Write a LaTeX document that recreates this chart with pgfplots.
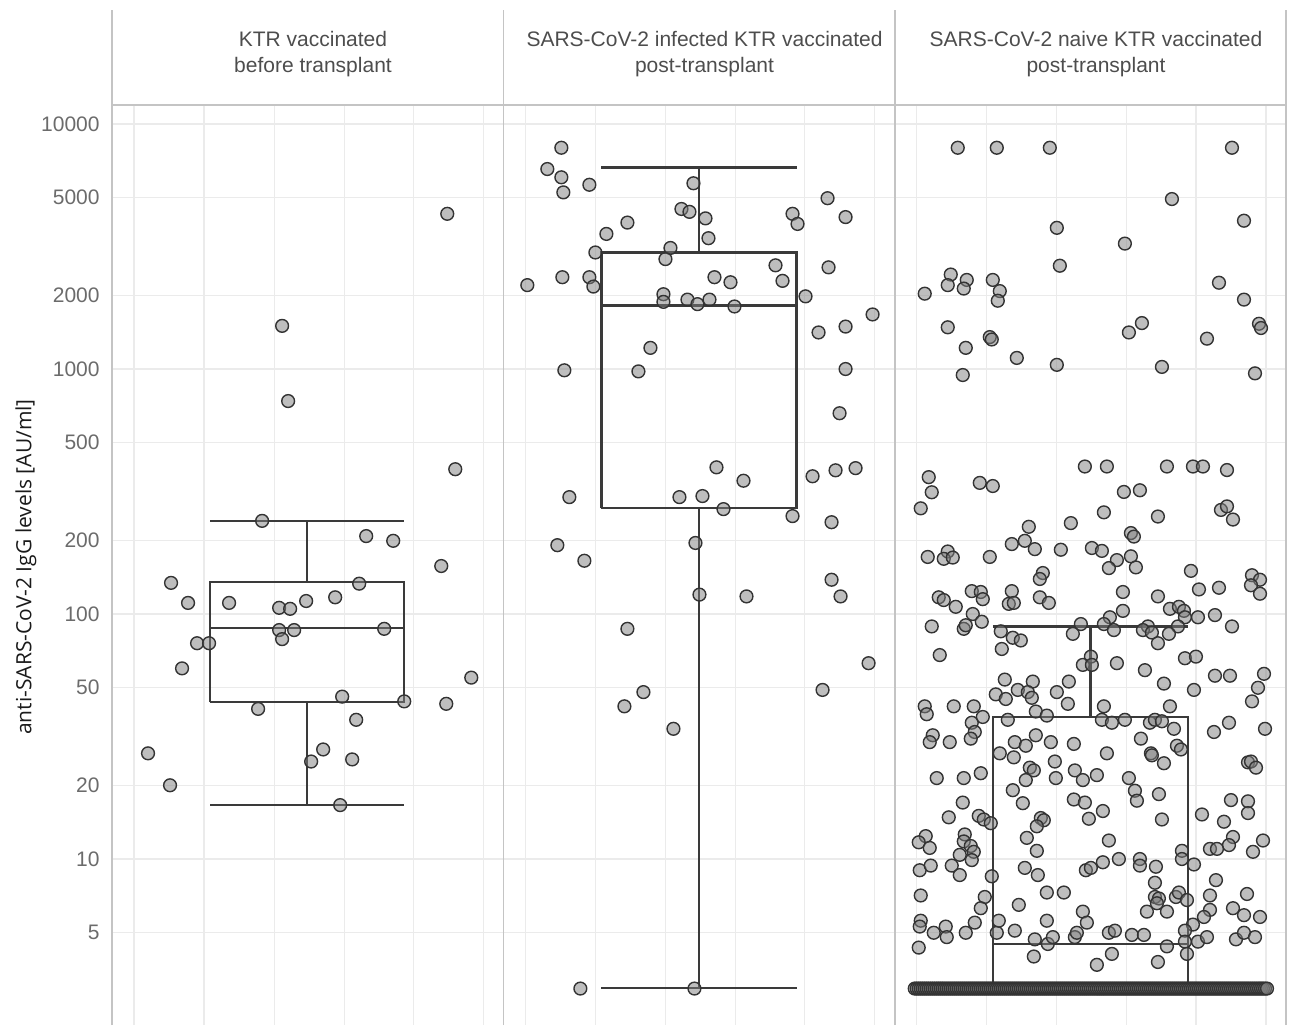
\documentclass[border=0pt]{standalone}
\usepackage{fontspec}
\setmainfont{Liberation Sans}
\newfontfamily\labfont{Open Sans}
\usepackage{pgfplots}
\usepackage{pgfplotstable}
\pgfplotsset{compat=1.18}
\definecolor{ptfill}{HTML}{7E7E7E}
\definecolor{ptedge}{HTML}{333333}
\definecolor{boxc}{HTML}{3A3A3A}
\definecolor{gridc}{HTML}{EBEBEB}
\definecolor{bordc}{HTML}{C4C4C4}
\definecolor{tickc}{HTML}{6B6B6B}
\definecolor{headc}{HTML}{4D4D4D}
\definecolor{ylabc}{HTML}{1A1A1A}

\pgfplotstableread{
x y
170 1500
176 740
335 4300
343 390
150 240
254 208
281 199
329 157
59 134
247 133
76 111
117 111
167 106
178 105
194 113
223 117
167 86
182 86
272 87
170 79
85 76
97 76
70 60
359 55
230 46
292 44
334 43
146 41
244 37
36 27
211 28
199 25
240 25.5
58 20
228 16.6
}\pone

\pgfplotstableread{
x y
58 8000
44 6550
58 6060
86 5650
60 5260
190 5730
324 4980
178 4500
186 4380
202 4120
289 4300
294 3910
342 4170
124 3960
103 3560
205 3420
167 3120
92 2990
162 2810
272 2650
325 2600
59 2370
86 2370
24 2200
90 2170
211 2370
227 2260
279 2290
302 1980
160 2020
160 1880
184 1920
194 1840
206 1920
231 1800
369 1670
342 1490
315 1410
147 1220
61 988
135 978
342 1000
336 660
213 397
240 350
309 365
332 386
352 394
66 300
176 300
199 303
220 268
289 251
328 237
54 191
192 195
81 165
328 138
337 118
196 120
243 118
124 87
365 63
140 48
319 49
121 42
170 34
77 2.96
191 2.96
}\ptwo

\pgfplotstableread{
x y
63 8000
102 8000
155 8000
337 8000
277 4940
349 4030
162 3770
230 3250
165 2640
56 2430
53 2200
72 2310
69 2130
98 2310
105 2080
103 1900
30 2030
324 2250
349 1920
53 1480
247 1540
234 1410
364 1530
366 1470
95 1350
97 1320
312 1330
71 1220
122 1110
162 1040
267 1020
68 945
360 960
34 362
37 314
26 270
85 343
98 333
190 400
212 400
272 400
298 400
308 400
332 387
229 315
245 320
209 260
263 250
326 266
332 275
338 243
176 235
134 227
236 214
239 207
117 193
130 199
140 184
166 183
197 186
207 181
53 180
33 171
49 168
58 170
95 171
222 166
236 172
214 154
241 155
296 150
148 147
145 139
357 144
365 138
356 131
365 121
324 128
304 126
228 123
263 118
77 124
86 123
88 115
44 117
49 114
61 107
117 124
114 110
119 111
145 117
154 111
78 100
87 93
37 89
69 87
71 90
228 103
215 97
275 105
284 107
289 103
290 97
303 97
320 99
337 89
186 91
209 91
253 89
283 89
106 85
178 83
219 86
248 86
257 84
274 83
263 76
118 80
126 78
107 72
45 68
196 67
188 62
197 62
222 63
290 66
301 67
250 59
320 56
335 56
369 57
110 54
138 53
174 53
269 52
363 50
101 47
111 45
123 49
133 48
137 45.5
162 48
299 49
30 42
32 39
59 42
79 42
88 38
77 36
80 33
38 32
35 30
55 30
76 31
113 37
141 40
152 38.5
173 43
209 42
207 37
217 36
230 37
255 36
260 37
267 36.5
275 42
279 34
357 44
334 36
319 33
370 34
120 30
131 29
141 32
156 30
179 29.5
105 27
119 26
160 25
212 27
246 31
256 27
257 26.5
269 24.6
282 29
286 28
353 24.8
356 25
361 23.6
42 21.4
69 21.4
86 22.4
135 23.6
139 23
131 21
161 21.4
180 23
188 21
202 22
234 21.4
118 19.1
128 16.9
179 17.5
190 17
240 19
242 17.3
264 18.4
68 17
54 14.8
84 15
89 14.5
96 14
146 14.7
149 14.4
142 13.6
194 14.6
208 15.7
267 14.5
336 17.4
353 17.2
353 15.4
307 15.2
329 14.2
31 12.4
24 11.7
35 11.1
70 12.6
69 11.8
76 11.3
79 10.7
65 10.4
77 9.9
132 12.2
142 10.8
214 11.9
338 12.3
334 11.4
315 11
322 11
368 11.9
358 10.7
287 10.8
287 10
299 9.5
208 9.7
224 10
245 10
245 9.4
261 9.3
25 9.0
36 9.4
57 9.4
65 8.6
97 8.5
130 9.2
143 8.6
191 9.0
196 9.2
260 8.0
321 8.2
26 7.1
152 7.3
169 7.3
90 7.0
86 6.3
124 6.5
260 7.0
264 6.9
262 6.6
281 7.0
284 7.3
292 6.8
272 6.1
252 6.1
188 6.1
192 5.5
315 7.1
352 7.2
315 6.2
338 6.3
349 5.9
309 5.8
365 5.8
298 5.4
26 5.6
25 5.3
39 5.0
51 5.3
52 4.8
71 5.0
80 5.5
102 5.0
104 5.6
120 5.1
152 5.6
140 4.7
153 4.5
158 4.8
180 4.8
182 5.0
214 5.0
220 5.1
237 4.9
249 4.9
272 4.4
290 5.1
290 4.6
292 4.1
303 4.6
312 4.8
341 4.7
349 5.0
360 4.8
24 4.35
139 4.0
217 4.1
202 3.7
263 3.8
}\pthree

\pgfplotstableread[row sep=\\]{
x y\\
20 2.96\\ 22 2.96\\ 24 2.96\\ 26 2.96\\ 28 2.96\\ 30 2.96\\ 32 2.96\\ 34 2.96\\ 36 2.96\\ 38 2.96\\
40 2.96\\ 42 2.96\\ 44 2.96\\ 46 2.96\\ 48 2.96\\ 50 2.96\\ 52 2.96\\ 54 2.96\\ 56 2.96\\ 58 2.96\\
60 2.96\\ 62 2.96\\ 64 2.96\\ 66 2.96\\ 68 2.96\\ 70 2.96\\ 72 2.96\\ 74 2.96\\ 76 2.96\\ 78 2.96\\
80 2.96\\ 82 2.96\\ 84 2.96\\ 86 2.96\\ 88 2.96\\ 90 2.96\\ 92 2.96\\ 94 2.96\\ 96 2.96\\ 98 2.96\\
100 2.96\\ 102 2.96\\ 104 2.96\\ 106 2.96\\ 108 2.96\\ 110 2.96\\ 112 2.96\\ 114 2.96\\ 116 2.96\\ 118 2.96\\
120 2.96\\ 122 2.96\\ 124 2.96\\ 126 2.96\\ 128 2.96\\ 130 2.96\\ 132 2.96\\ 134 2.96\\ 136 2.96\\ 138 2.96\\
140 2.96\\ 142 2.96\\ 144 2.96\\ 146 2.96\\ 148 2.96\\ 150 2.96\\ 152 2.96\\ 154 2.96\\ 156 2.96\\ 158 2.96\\
160 2.96\\ 162 2.96\\ 164 2.96\\ 166 2.96\\ 168 2.96\\ 170 2.96\\ 172 2.96\\ 174 2.96\\ 176 2.96\\ 178 2.96\\
180 2.96\\ 182 2.96\\ 184 2.96\\ 186 2.96\\ 188 2.96\\ 190 2.96\\ 192 2.96\\ 194 2.96\\ 196 2.96\\ 198 2.96\\
200 2.96\\ 202 2.96\\ 204 2.96\\ 206 2.96\\ 208 2.96\\ 210 2.96\\ 212 2.96\\ 214 2.96\\ 216 2.96\\ 218 2.96\\
220 2.96\\ 222 2.96\\ 224 2.96\\ 226 2.96\\ 228 2.96\\ 230 2.96\\ 232 2.96\\ 234 2.96\\ 236 2.96\\ 238 2.96\\
240 2.96\\ 242 2.96\\ 244 2.96\\ 246 2.96\\ 248 2.96\\ 250 2.96\\ 252 2.96\\ 254 2.96\\ 256 2.96\\ 258 2.96\\
260 2.96\\ 262 2.96\\ 264 2.96\\ 266 2.96\\ 268 2.96\\ 270 2.96\\ 272 2.96\\ 274 2.96\\ 276 2.96\\ 278 2.96\\
280 2.96\\ 282 2.96\\ 284 2.96\\ 286 2.96\\ 288 2.96\\ 290 2.96\\ 292 2.96\\ 294 2.96\\ 296 2.96\\ 298 2.96\\
300 2.96\\ 302 2.96\\ 304 2.96\\ 306 2.96\\ 308 2.96\\ 310 2.96\\ 312 2.96\\ 314 2.96\\ 316 2.96\\ 318 2.96\\
320 2.96\\ 322 2.96\\ 324 2.96\\ 326 2.96\\ 328 2.96\\ 330 2.96\\ 332 2.96\\ 334 2.96\\ 336 2.96\\ 338 2.96\\
340 2.96\\ 342 2.96\\ 344 2.96\\ 346 2.96\\ 348 2.96\\ 350 2.96\\ 352 2.96\\ 354 2.96\\ 356 2.96\\ 358 2.96\\
360 2.96\\ 362 2.96\\ 364 2.96\\ 366 2.96\\ 368 2.96\\ 370 2.96\\ 372 2.96\\
}\pthreefloor

\pgfplotsset{
  pts/.style={only marks, mark=*, mark size=3.2pt,
    mark options={fill=ptfill, fill opacity=0.5, draw=ptedge, draw opacity=1, line width=0.7pt}},
  bx/.style={boxc, line width=1.25pt, forget plot},
}

\begin{document}
\begin{tikzpicture}
\useasboundingbox (0,0) rectangle (647pt,512.5pt);

% Panel 1
\begin{axis}[scale only axis, width=195.65pt, height=460pt, anchor=south west, at={(56pt,0pt)},
    xmin=0, xmax=391, ymode=log, ymin=2.1014, ymax=11955,
    axis line style={draw=none}, tick style={draw=none}, major tick length=0pt,
    xtick={22,92,162,232,301,371}, xticklabels={},
    ytick={5,10,20,50,100,200,500,1000,2000,5000,10000},
    xmajorgrids, ymajorgrids,
    grid style={gridc, line width=0.6pt},
  yticklabels={5,10,20,50,100,200,500,1000,2000,5000,10000},
  yticklabel style={font=\fontsize{10.5}{12}\selectfont, text=tickc, anchor=east, inner sep=0pt, xshift=-6pt}]
\addplot[bx] coordinates {(98,43.7) (98,135) (292,135) (292,43.7) (98,43.7)};
\addplot[bx] coordinates {(98,87.6) (292,87.6)};
\addplot[bx] coordinates {(195,135) (195,240)};
\addplot[bx] coordinates {(98,240) (292,240)};
\addplot[bx] coordinates {(195,43.7) (195,16.6)};
\addplot[bx] coordinates {(98,16.6) (292,16.6)};
\addplot[pts] table[x=x,y=y] {\pone};
\end{axis}

% Panel 2
\begin{axis}[scale only axis, width=195.65pt, height=460pt, anchor=south west, at={(251.65pt,0pt)},
    xmin=0, xmax=391, ymode=log, ymin=2.1014, ymax=11955,
    axis line style={draw=none}, tick style={draw=none}, major tick length=0pt,
    xtick={22,92,162,232,301,371}, xticklabels={},
    ytick={5,10,20,50,100,200,500,1000,2000,5000,10000}, yticklabels={},
    xmajorgrids, ymajorgrids,
    grid style={gridc, line width=0.6pt}]
\addplot[bx] coordinates {(98,271) (98,2990) (293,2990) (293,271) (98,271)};
\addplot[bx] coordinates {(98,1820) (293,1820)};
\addplot[bx] coordinates {(195.5,2990) (195.5,6630)};
\addplot[bx] coordinates {(98,6630) (293,6630)};
\addplot[bx] coordinates {(195.5,271) (195.5,2.97)};
\addplot[bx] coordinates {(98,2.97) (293,2.97)};
\addplot[pts] table[x=x,y=y] {\ptwo};
\end{axis}

% Panel 3
\begin{axis}[scale only axis, width=195.65pt, height=460pt, anchor=south west, at={(447.35pt,0pt)},
    xmin=0, xmax=391, ymode=log, ymin=2.1014, ymax=11955,
    axis line style={draw=none}, tick style={draw=none}, major tick length=0pt,
    xtick={22,92,162,232,301,371}, xticklabels={},
    ytick={5,10,20,50,100,200,500,1000,2000,5000,10000}, yticklabels={},
    xmajorgrids, ymajorgrids,
    grid style={gridc, line width=0.6pt}]
\addplot[bx] coordinates {(98,2.97) (98,38) (293,38) (293,2.97) (98,2.97)};
\addplot[bx] coordinates {(98,4.5) (293,4.5)};
\addplot[bx] coordinates {(195.5,38) (195.5,89)};
\addplot[bx] coordinates {(98,89) (293,89)};
\addplot[pts] table[x=x,y=y] {\pthree};
\addplot[pts] table[x=x,y=y] {\pthreefloor};
\end{axis}

\begin{scope}[x=0.5pt,y=0.5pt]
\draw[bordc, line width=0.8pt] (112,0) -- (112,1015);
\draw[bordc, line width=0.8pt] (503.3,0) -- (503.3,1015);
\draw[bordc, line width=0.8pt] (894.7,0) -- (894.7,1015);
\draw[bordc, line width=0.8pt] (1286,0) -- (1286,1015);
\draw[bordc, line width=0.7pt] (112,920) -- (1286,920);
\begin{scope}[every node/.style={font=\fontsize{10.5}{12}\selectfont, text=headc, anchor=base, inner sep=0pt}]
\node at (313,978) {KTR vaccinated};
\node at (313,952) {before transplant};
\node at (704.5,978) {SARS-CoV-2 infected KTR vaccinated};
\node at (704.5,952) {post-transplant};
\node at (1096,978) {SARS-CoV-2 naive KTR vaccinated};
\node at (1096,952) {post-transplant};
\end{scope}
\node[rotate=90, font=\labfont\fontsize{10.5}{12}\selectfont, text=ylabc, inner sep=0pt] at (26,458) {anti-SARS-CoV-2 IgG levels [AU/ml]};
\end{scope}
\end{tikzpicture}
\end{document}
